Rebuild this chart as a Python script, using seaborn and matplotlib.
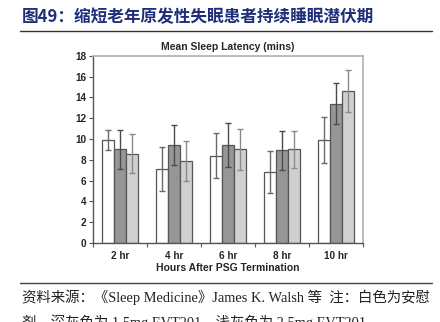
import matplotlib
matplotlib.use("Agg")
import matplotlib.pyplot as plt
import seaborn as sns
import pandas as pd
import numpy as np

# Data
hours = ["2 hr", "4 hr", "6 hr", "8 hr", "10 hr"]
groups = ["Placebo", "EVT201 1.5mg", "EVT201 2.5mg"]
placebo = [9.9, 7.1, 8.4, 6.8, 9.9]
evt_15 = [9.0, 9.4, 9.4, 8.9, 13.4]
evt_25 = [8.6, 7.9, 9.0, 9.0, 14.6]
placebo_se = [0.95, 2.1, 2.2, 2.0, 2.2]
evt_15_se = [1.9, 1.9, 2.1, 1.9, 2.0]
evt_25_se = [1.9, 1.9, 2.0, 1.8, 2.0]
y_ticks = [0, 2, 4, 6, 8, 10, 12, 14, 16, 18]

title_text = "图49：缩短老年原发性失眠患者持续睡眠潜伏期"
chart_title = "Mean Sleep Latency (mins)"
x_label = "Hours After PSG Termination"
source_line1 = "资料来源：《Sleep Medicine》James K. Walsh 等  注：白色为安慰"
source_line2 = "剂，深灰色为 1.5mg EVT201，浅灰色为 2.5mg EVT201"

means = [placebo, evt_15, evt_25]
ses = [placebo_se, evt_15_se, evt_25_se]
df = pd.DataFrame({
    "hour": np.tile(hours, 3),
    "group": np.repeat(groups, len(hours)),
    "value": np.concatenate(means),
    "se": np.concatenate(ses),
})

sns.set_theme(style="white")
plt.rcParams["font.family"] = ["Liberation Sans", "Noto Sans CJK SC", "DejaVu Sans"]

fig = plt.figure(figsize=(4.4, 3.22), dpi=100)
ax = fig.add_axes([0.2114, 0.2453, 0.6136, 0.5817])

bar_colors = ["#ffffff", "#969696", "#d0d0d0"]
err_colors = ["#6a6a6a", "#4a4a4a", "#8a8a8a"]
sns.barplot(data=df, x="hour", y="value", hue="group", order=hours,
            hue_order=groups, palette=bar_colors, width=0.667, gap=0,
            errorbar=None, edgecolor="#555555", linewidth=0.9,
            legend=False, ax=ax)

# error bars placed at each bar's centre
bars = [p for p in ax.patches if p.get_height() > 0]
for k, g in enumerate(groups):
    for i, h in enumerate(hours):
        p = bars[k * len(hours) + i]
        xc = p.get_x() + p.get_width() / 2
        ax.errorbar(xc, means[k][i], yerr=ses[k][i], fmt="none",
                    ecolor=err_colors[k], elinewidth=1.0, capsize=2.2,
                    capthick=1.0, zorder=5)

ax.set_xlim(-0.5, len(hours) - 0.5)
ax.set_ylim(0, 18)
ax.set_yticks(y_ticks)
ax.set_yticklabels([str(v) for v in y_ticks], fontsize=7.2, fontweight="bold")
ax.set_xticks(range(len(hours)))
ax.set_xticklabels(hours, fontsize=7.2, fontweight="bold")
ax.set_xticks(np.arange(-0.5, len(hours)), minor=True)
ax.tick_params(axis="x", which="major", length=0, pad=6)
ax.tick_params(axis="x", which="minor", length=3, width=0.8, color="#555555",
               bottom=True)
ax.tick_params(axis="y", length=3, width=0.8, color="#555555", left=True, pad=2)
ax.set_xlabel(x_label, fontsize=7.5, fontweight="bold", labelpad=1)
ax.set_ylabel("")
ax.set_title(chart_title, fontsize=7.5, fontweight="bold", pad=4)

for side in ["left", "bottom"]:
    ax.spines[side].set_color("#555555")
    ax.spines[side].set_linewidth(1.0)
for side in ["top", "right"]:
    ax.spines[side].set_color("#b0b0b0")
    ax.spines[side].set_linewidth(1.2)

# page header and footer
fig.text(0.05, 0.948, title_text, fontsize=12.0, fontweight="bold",
         color="#1f2e78", family=["Noto Sans CJK SC", "DejaVu Sans"],
         va="center", ha="left")
fig.add_artist(plt.Line2D([0.045, 0.982], [0.904, 0.904], color="#333333",
                          linewidth=1.0, transform=fig.transFigure))
fig.add_artist(plt.Line2D([0.045, 0.982], [0.121, 0.121], color="#444444",
                          linewidth=1.0, transform=fig.transFigure))
fig.text(0.05, 0.077, source_line1, fontsize=10.4, color="#222222",
         family=["Liberation Serif", "Noto Sans CJK SC"], va="center",
         ha="left")
fig.text(0.05, 0.0, source_line2, fontsize=10.4, color="#222222",
         family=["Liberation Serif", "Noto Sans CJK SC"], va="center",
         ha="left")

fig.savefig("out.png", dpi=100)
